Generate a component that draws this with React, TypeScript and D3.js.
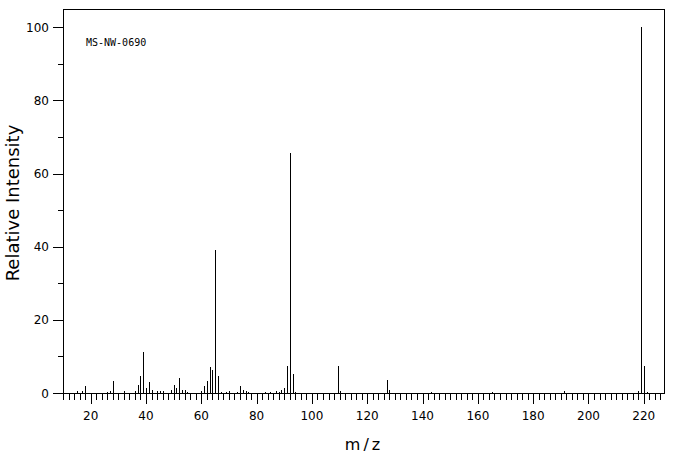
import React, { useEffect, useRef } from 'react'
import * as d3 from 'd3'

// m/z positions and relative intensities
const mzValues = [
    15, 17, 18, 26, 27, 28, 32, 36, 37, 38, 39, 40, 41, 42, 44, 45, 46, 49, 50, 51,
    52, 53, 54, 55, 60, 61, 62, 63, 64, 65, 66, 67, 69, 70, 73, 74, 75, 76, 77, 83,
    85, 87, 88, 89, 90, 91, 92, 93, 94, 109.5, 110, 127, 128, 143, 165, 191, 218, 219, 220, 221,
]
const intensities = [
    0.45, 0.45, 1.8, 0.3, 0.6, 3.4, 0.6, 0.45, 2.1, 4.7, 11.3, 1.5, 2.9, 0.9, 0.6, 0.6, 0.45, 0.7, 2.1, 1.5,
    4.2, 0.9, 0.9, 0.35, 0.45, 1.8, 3.2, 7.0, 6.2, 39.2, 4.7, 0.35, 0.35, 0.45, 0.35, 2.0, 0.9, 0.6, 0.35, 0.35,
    0.35, 0.6, 0.35, 0.7, 1.5, 7.5, 65.6, 5.1, 0.35, 7.3, 0.6, 3.65, 0.9, 0.35, 0.35, 0.6, 0.6, 100, 7.3, 0.3,
]

const xTickLabels = [20, 40, 60, 80, 100, 120, 140, 160, 180, 200, 220]
const yTickLabels = [0, 20, 40, 60, 80, 100]
const spectrumId = 'MS-NW-0690'

const width = 676
const height = 455

export default function App() {
    const svgRef = useRef<SVGSVGElement>(null)

    useEffect(() => {
        if (!svgRef.current) return
        const svg = d3.select(svgRef.current)
        svg.selectAll('*').remove()

        const left = 63, right = 664, top = 9, bottom = 393

        const x = d3.scaleLinear().domain([10, 227.3]).range([left, right])
        const y = d3.scaleLinear().domain([0, 105]).range([bottom, top])

        const g = svg.append('g').attr('shape-rendering', 'crispEdges')

        // frame (left, top, right) + baseline
        g.append('path')
            .attr('d', `M${left + 0.5},${bottom + 0.5}V${top + 0.5}H${right + 0.5}V${bottom + 0.5}`)
            .attr('fill', 'none')
            .attr('stroke', '#000')
        g.append('line')
            .attr('x1', left).attr('x2', right + 1)
            .attr('y1', bottom + 0.5).attr('y2', bottom + 0.5)
            .attr('stroke', '#000')

        // x ticks: minor every 2, major every 20
        const xTicks = d3.range(10, 227, 2)
        g.selectAll('.xtick')
            .data(xTicks)
            .enter().append('line')
            .attr('class', 'xtick')
            .attr('x1', d => Math.round(x(d)) + 0.5)
            .attr('x2', d => Math.round(x(d)) + 0.5)
            .attr('y1', bottom)
            .attr('y2', d => bottom + (d % 20 === 0 ? 11 : 7))
            .attr('stroke', '#000')

        // y ticks: minor every 10, major every 20
        const yTicks = d3.range(0, 101, 10)
        g.selectAll('.ytick')
            .data(yTicks)
            .enter().append('line')
            .attr('class', 'ytick')
            .attr('x1', d => left - (d % 20 === 0 ? 10 : 5))
            .attr('x2', left)
            .attr('y1', d => Math.round(y(d)) + 0.5)
            .attr('y2', d => Math.round(y(d)) + 0.5)
            .attr('stroke', '#000')

        // peaks
        const peaks = mzValues.map((m, i) => ({ m, v: intensities[i] }))
        g.selectAll('.peak')
            .data(peaks)
            .enter().append('line')
            .attr('class', 'peak')
            .attr('x1', d => Math.round(x(d.m)) + 0.5)
            .attr('x2', d => Math.round(x(d.m)) + 0.5)
            .attr('y1', bottom)
            .attr('y2', d => y(d.v))
            .attr('stroke', '#000')

        const font = "'DejaVu Sans', sans-serif"

        svg.selectAll('.xlabel')
            .data(xTickLabels)
            .enter().append('text')
            .attr('x', d => x(d))
            .attr('y', 420)
            .attr('text-anchor', 'middle')
            .style('font-family', font)
            .style('font-size', '12px')
            .text(d => d)

        svg.selectAll('.ylabel')
            .data(yTickLabels)
            .enter().append('text')
            .attr('x', 49)
            .attr('y', d => y(d) + 4.5)
            .attr('text-anchor', 'end')
            .style('font-family', font)
            .style('font-size', '12px')
            .text(d => d)

        svg.append('text')
            .attr('transform', 'translate(19,203) rotate(-90)')
            .attr('text-anchor', 'middle')
            .style('font-family', font)
            .style('font-size', '18px')
            .text('Relative Intensity')

        svg.append('text')
            .attr('x', 364)
            .attr('y', 450)
            .attr('text-anchor', 'middle')
            .style('font-family', font)
            .style('font-size', '16px')
            .style('letter-spacing', '3px')
            .text('m/z')

        svg.append('text')
            .attr('x', 86)
            .attr('y', 46)
            .style('font-family', "'DejaVu Sans Mono', monospace")
            .style('font-size', '10px')
            .text(spectrumId)
    }, [])

    return (
        <div style={{ position: 'fixed', left: 0, top: 0, background: '#fff' }}>
            <svg ref={svgRef} width={width} height={height} viewBox={`0 0 ${width} ${height}`} style={{ display: 'block' }} />
        </div>
    )
}
